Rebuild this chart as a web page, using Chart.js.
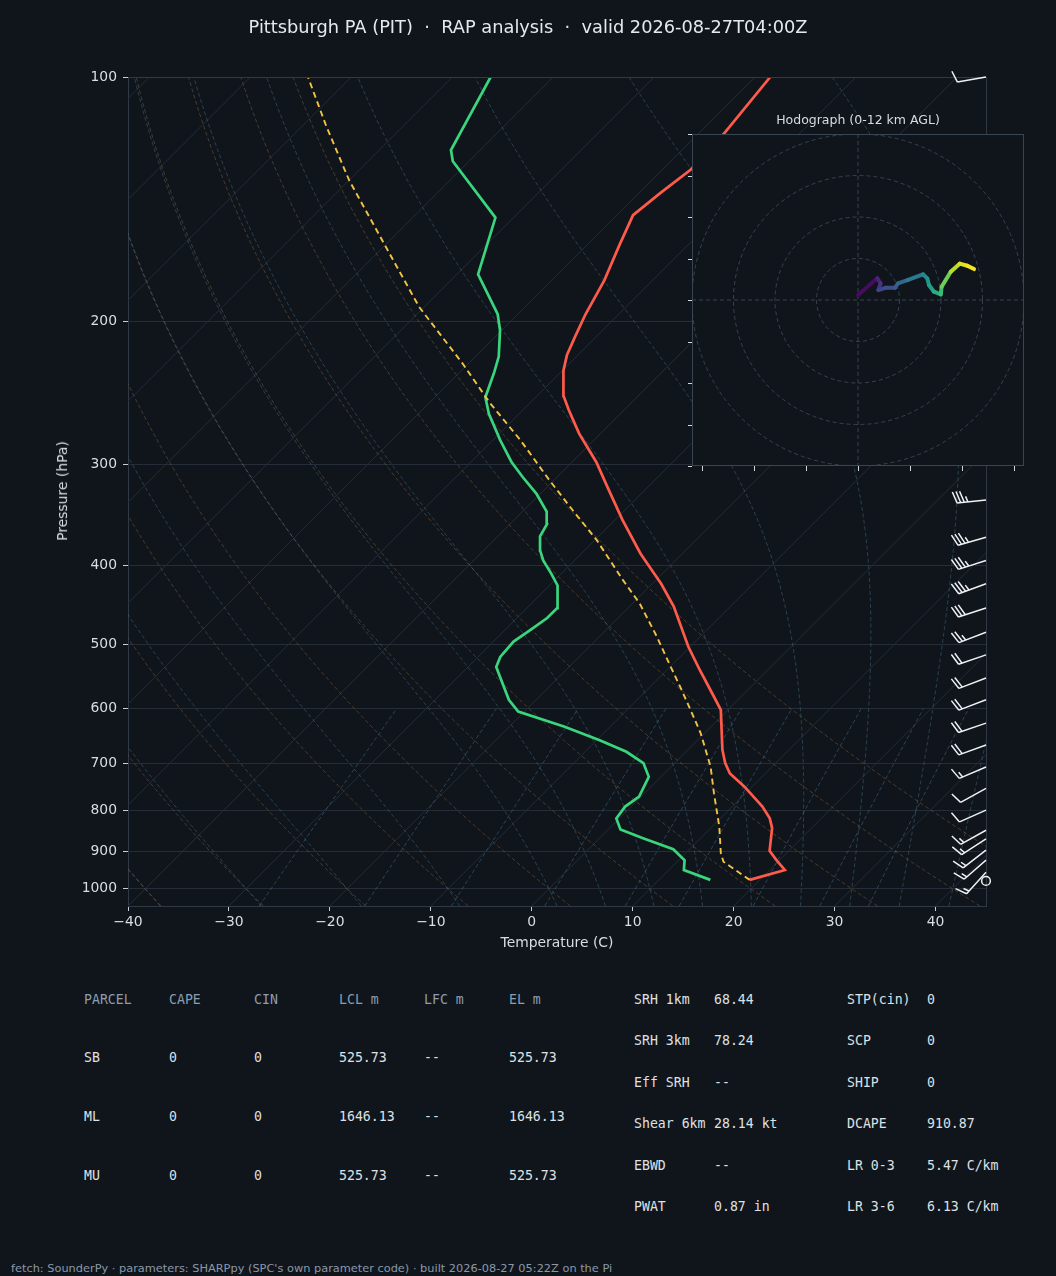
<!DOCTYPE html>
<html><head><meta charset="utf-8">
<script src="https://cdn.jsdelivr.net/npm/chart.js@4.4.1/dist/chart.umd.min.js"></script>
<style>
html,body{margin:0;padding:0;background:#10151c;}
#wrap{position:relative;width:1056px;height:1276px;overflow:hidden;background:#10151c;font-family:"DejaVu Sans",sans-serif;}
canvas{position:absolute;}
.t{position:absolute;white-space:pre;line-height:1;}
.mono{font-family:"DejaVu Sans Mono",monospace;font-size:13.2px;}
</style></head><body>
<div id="wrap">
<canvas id="skew" width="1056" height="960" style="left:0;top:0;width:1056px;height:960px"></canvas>
<canvas id="hodo" width="360" height="370" style="left:672px;top:110px;width:360px;height:370px"></canvas>
</div>
<script>
// ---------------- data ----------------
const tempPres = [975,948,922,898,842,819,792,748,721,700,674,602,569,538,503,449,421,394,386,351,320,298,275,257,247,230,220,209,196,178,161,148,139,130,117,100];
const tempC    = [19.0,21.5,19.7,18.1,16.1,14.9,13.0,9.2,6.5,5.0,3.4,-0.7,-3.7,-6.7,-10.2,-15.6,-19.1,-23.0,-24.2,-29.3,-34.0,-37.6,-42.1,-45.5,-47.4,-49.9,-51.1,-52.1,-53.3,-54.8,-56.8,-58.4,-57.9,-57.2,-57.5,-58.5];
const dwptPres = [975,948,922,894,867,845,819,792,770,728,700,678,656,631,605,585,533,518,496,480,464,451,423,409,394,383,368,356,343,326,311,298,280,260,248,231,221,205,196,175,149,127,123,100];
const dwptC    = [15.1,11.5,10.6,8.4,4.4,1.2,-0.3,-0.6,-0.2,-1.2,-3.1,-5.9,-9.7,-14.6,-20.6,-22.7,-27.2,-27.8,-28.0,-27.5,-27.0,-27.0,-29.2,-31.0,-33.1,-34.4,-35.8,-36.3,-37.6,-40.4,-43.4,-46.0,-49.3,-53.0,-55.0,-56.6,-57.7,-60.2,-62.0,-67.9,-71.8,-81.6,-82.9,-86.2];
const parcelPres = [975,926,904,838,763,707,643,602,564,530,489,445,417,372,342,314,280,252,225,192,160,134,115,100];
const parcelC    = [19.0,14.6,13.5,10.7,6.9,3.9,-0.4,-3.7,-7.0,-10.2,-14.3,-19.3,-23.2,-29.8,-35.1,-40.4,-47.3,-54.0,-60.7,-70.5,-80.4,-90.0,-97.6,-104.3];
const pressureTicks = [100,200,300,400,500,600,700,800,900,1000];
const tempTicks = [-40,-30,-20,-10,0,10,20,30,40];
const barbPres = [100,332,369,394,421,451,483,515,550,585,625,665,708,752,800,847,868,896,922,954,978];
const barbSpd  = [10,35,35,35,35,30,25,20,20,20,20,20,15,10,10,15,15,15,15,15,0];
const barbDir  = [260,264,254,252,250,252,249,251,249,249,251,250,247,241,246,241,237,232,229,222,0];
const hodoU = [0,9.3,10.9,9.8,13.3,17.8,19.3,23.8,31.3,33.4,34.2,36.6,39.9,40.3,44.7,49.0,52.7,55.9];
const hodoV = [2.4,10.5,8.0,4.8,5.9,5.9,8.0,9.6,12.4,10.4,7.2,4.0,2.7,6.4,13.6,17.5,16.5,14.9];
const hodoH = [0,0.8,1.6,2.2,2.6,3.2,3.6,4.4,5.3,5.8,6.3,7.2,7.8,8.4,10.2,11.2,11.7,12.0];
const hodoRings = [20,40,60,80];
const hodoXTicks = [-75,-50,-25,0,25,50,75];
const hodoYTicks = [-80,-60,-40,-20,0,20,40,60,80];
const parcelHeaders = ['PARCEL','CAPE','CIN','LCL m','LFC m','EL m'];
const parcelRows = [
  ['SB','0','0','525.73','--','525.73'],
  ['ML','0','0','1646.13','--','1646.13'],
  ['MU','0','0','525.73','--','525.73']
];
const paramLabelsA = ['SRH 1km','SRH 3km','Eff SRH','Shear 6km','EBWD','PWAT'];
const paramValuesA = ['68.44','78.24','--','28.14 kt','--','0.87 in'];
const paramLabelsB = ['STP(cin)','SCP','SHIP','DCAPE','LR 0-3','LR 3-6'];
const paramValuesB = ['0','0','0','910.87','5.47 C/km','6.13 C/km'];
const titleText = 'Pittsburgh PA (PIT)  \u00b7  RAP analysis  \u00b7  valid 2026-08-27T04:00Z';
const footerText = "fetch: SounderPy \u00b7 parameters: SHARPpy (SPC's own parameter code) \u00b7 built 2026-08-27 05:22Z on the Pi";

// ---------------- skew-T geometry ----------------
const X_MIN=-40, X_MAX=45, P_TOP=100, P_BOT=1050;
const AREA_W=858, AREA_H=829;
const SKEW = (AREA_H/Math.log10(P_BOT/P_TOP)) / (AREA_W/(X_MAX-X_MIN)); // 45 deg isotherms
const skewX = (T,p) => T + SKEW*Math.log10(P_BOT/p);
const BG='#10151c';
const FONT='DejaVu Sans';

// thermodynamic helpers for background lines
const RD=287.04749, CP=1004.66, LV=2.50084e6, EPS=0.62197;
const logPs = (p0,p1,n)=>{const a=[];for(let i=0;i<=n;i++)a.push(p0*Math.pow(p1/p0,i/n));return a;};
function moistProfile(t0C){
  const f=(p,T)=>{const es=6.112*Math.exp(17.67*(T-273.15)/(T-29.65));const rs=EPS*es/(p-es);return (RD*T+LV*rs)/(CP+LV*LV*rs*EPS/(RD*T*T))/p;};
  const step=(p,T,h)=>{const k1=f(p,T),k2=f(p+h/2,T+h*k1/2),k3=f(p+h/2,T+h*k2/2),k4=f(p+h,T+h*k3);return T+h*(k1+2*k2+2*k3+k4)/6;};
  let T=t0C+273.15,p=1000;const up=[[p,T-273.15]];
  const N=90;
  for(let i=1;i<=N;i++){const pn=1000*Math.pow(0.1,i/N);T=step(p,T,pn-p);p=pn;up.push([p,T-273.15]);}
  T=t0C+273.15;p=1000;const down=[];
  for(let i=1;i<=5;i++){const pn=1000+10*i;T=step(p,T,pn-p);p=pn;down.unshift([p,T-273.15]);}
  return down.concat(up);
}

const bgPlugin = {
  id:'skewBg',
  beforeDatasetsDraw(chart){
    const {ctx, chartArea:a, scales:{x:xs,y:ys}} = chart;
    const px=(T,p)=>xs.getPixelForValue(skewX(T,p));
    const py=p=>ys.getPixelForValue(p);
    const poly=(pts)=>{ctx.beginPath();pts.forEach(([p,T],i)=>{const X=px(T,p),Y=py(p);if(i)ctx.lineTo(X,Y);else ctx.moveTo(X,Y);});ctx.stroke();};
    ctx.save();
    ctx.beginPath();ctx.rect(a.left,a.top,a.right-a.left,a.bottom-a.top);ctx.clip();
    // isotherms
    ctx.lineWidth=1;ctx.setLineDash([]);ctx.strokeStyle='#242c37';
    for(let T=-130;T<=45;T+=10){poly([[P_BOT,T],[P_TOP,T]]);}
    // dry adiabats
    ctx.setLineDash([4,2.5]);ctx.strokeStyle='rgba(150,112,66,0.42)';
    const ps=logPs(P_BOT,P_TOP,70);
    for(let t0=-40;t0<=50;t0+=10){poly(ps.map(p=>[p,(t0+273.15)*Math.pow(p/1000,RD/CP)-273.15]));}
    // moist adiabats
    ctx.strokeStyle='rgba(70,120,140,0.45)';
    const mt=[-40,-30,-20,-10,0,5,10,15,20,25,30,35,40,45,50];
    mt.forEach(t0=>poly(moistProfile(t0)));
    // mixing ratio lines
    ctx.strokeStyle='rgba(70,115,150,0.5)';
    const ws=[0.4,1,2,4,7,10,16,24,32];
    const pm=logPs(P_BOT,600,30);
    ws.forEach(w=>{poly(pm.map(p=>{const e=p*(w/1000)/(EPS+w/1000);const l=Math.log(e/6.112);return [p,243.5*l/(17.67-l)];}));});
    ctx.restore();
  },
  afterDraw(chart){
    const {ctx, chartArea:a}=chart;
    ctx.save();ctx.strokeStyle='#2f3a46';ctx.lineWidth=1;ctx.setLineDash([]);
    ctx.beginPath();ctx.moveTo(a.left,a.top+0.5);ctx.lineTo(a.right+0.5,a.top+0.5);ctx.lineTo(a.right+0.5,a.bottom);ctx.stroke();
    ctx.restore();
    drawBarbs(chart);
  }
};

function drawBarbs(chart){
  const {ctx, chartArea:a, scales:{y:ys}}=chart;
  const L=29, h=0.4*L, w=0.25*L, sp=0.125*L;
  ctx.save();ctx.strokeStyle='#eef0f2';ctx.lineWidth=1.5;ctx.lineJoin='miter';ctx.setLineDash([]);
  barbPres.forEach((p,i)=>{
    const x0=a.right, y0=ys.getPixelForValue(p);
    let spd=Math.round(barbSpd[i]/5)*5;
    if(spd<5){ctx.beginPath();ctx.arc(x0,y0,0.15*L,0,Math.PI*2);ctx.stroke();return;}
    const r=barbDir[i]*Math.PI/180;
    const dx=Math.sin(r), dy=-Math.cos(r);
    const nx=-dy, ny=dx;
    ctx.beginPath();ctx.moveTo(x0,y0);ctx.lineTo(x0+dx*L,y0+dy*L);
    let pos=L;
    const nFull=Math.floor(spd/10); const half=(spd%10)>=5;
    for(let k=0;k<nFull;k++){
      const bx=x0+dx*pos, by=y0+dy*pos;
      ctx.moveTo(bx,by);ctx.lineTo(bx+dx*w/2+nx*h, by+dy*w/2+ny*h);
      pos-=sp;
    }
    if(half){
      if(nFull===0)pos-=1.5*sp;
      const bx=x0+dx*pos, by=y0+dy*pos;
      ctx.moveTo(bx,by);ctx.lineTo(bx+dx*w/4+nx*h/2, by+dy*w/4+ny*h/2);
    }
    ctx.stroke();
  });
  ctx.restore();
}

const fmtT = v => v<0 ? '\u2212'+Math.abs(v) : String(v);
const tickFont = {family:FONT,size:13.9};

new Chart(document.getElementById('skew'),{
  type:'scatter',
  data:{datasets:[
    {label:'Temperature',data:tempPres.map((p,i)=>({x:skewX(tempC[i],p),y:p})),showLine:true,borderColor:'#ff5b4b',borderWidth:2.7,pointRadius:0,fill:false,order:2},
    {label:'Dewpoint',data:dwptPres.map((p,i)=>({x:skewX(dwptC[i],p),y:p})),showLine:true,borderColor:'#3ad67d',borderWidth:2.7,pointRadius:0,fill:false,order:3},
    {label:'Parcel',data:parcelPres.map((p,i)=>({x:skewX(parcelC[i],p),y:p})),showLine:true,borderColor:'#f2c343',borderWidth:1.9,borderDash:[6,4],pointRadius:0,fill:false,order:1}
  ]},
  options:{
    responsive:false,animation:false,
    layout:{padding:{left:0,top:77,right:70,bottom:0}},
    plugins:{legend:{display:false},tooltip:{enabled:false},title:{display:false}},
    scales:{
      x:{type:'linear',min:X_MIN,max:X_MAX,
        afterBuildTicks:s=>{s.ticks=tempTicks.map(v=>({value:v}));},
        afterFit:s=>{s.height=54;},
        grid:{drawOnChartArea:false,drawTicks:true,tickLength:5,tickColor:'#c9ced4',tickWidth:1},
        border:{color:'#2f3a46',width:1},
        ticks:{color:'#dadde1',font:tickFont,padding:3,maxRotation:0,autoSkip:false,callback:v=>fmtT(v)}},
      y:{type:'logarithmic',reverse:true,min:P_TOP,max:P_BOT,
        afterBuildTicks:s=>{s.ticks=pressureTicks.map(v=>({value:v}));},
        afterFit:s=>{s.width=128;},
        grid:{color:'#252d38',lineWidth:1,drawTicks:true,tickLength:5,tickColor:'#c9ced4'},
        border:{color:'#2f3a46',width:1},
        ticks:{color:'#dadde1',font:tickFont,padding:6,autoSkip:false,callback:v=>String(v)}}
    }
  },
  plugins:[bgPlugin]
});

// ---------------- hodograph ----------------
const VIR=['#440154','#482475','#414487','#355f8d','#2a788e','#21918c','#22a884','#44bf70','#7ad151','#bddf26','#fde725'];
function viridis(t){
  t=Math.max(0,Math.min(1,t));const f=t*10,i=Math.min(9,Math.floor(f)),u=f-i;
  const a=VIR[i],b=VIR[i+1];const c=k=>parseInt(a.substr(k,2),16)*(1-u)+parseInt(b.substr(k,2),16)*u;
  return `rgb(${Math.round(c(1))},${Math.round(c(3))},${Math.round(c(5))})`;
}
const hMax=Math.max(...hodoH);
const hodoPlugin={
  id:'hodoBg',
  beforeDatasetsDraw(chart){
    const {ctx,chartArea:a,scales:{x:xs,y:ys}}=chart;
    ctx.save();
    ctx.fillStyle=BG;ctx.fillRect(a.left,a.top,a.right-a.left,a.bottom-a.top);
    ctx.beginPath();ctx.rect(a.left,a.top,a.right-a.left,a.bottom-a.top);ctx.clip();
    const cx=xs.getPixelForValue(0),cy=ys.getPixelForValue(0);
    ctx.strokeStyle='#384250';ctx.lineWidth=1;ctx.setLineDash([4,3]);
    hodoRings.forEach(r=>{const R=xs.getPixelForValue(r)-cx;ctx.beginPath();ctx.arc(cx,cy,R,0,Math.PI*2);ctx.stroke();});
    ctx.beginPath();ctx.moveTo(cx,a.top);ctx.lineTo(cx,a.bottom);ctx.moveTo(a.left,cy);ctx.lineTo(a.right,cy);ctx.stroke();
    ctx.restore();
  },
  afterDraw(chart){
    const {ctx,chartArea:a,scales:{x:xs,y:ys}}=chart;
    ctx.save();ctx.setLineDash([]);
    ctx.strokeStyle='#3a4554';ctx.lineWidth=1;
    ctx.strokeRect(a.left+0.5,a.top+0.5,a.right-a.left-1,a.bottom-a.top-1);
    ctx.strokeStyle='#d4d8dc';ctx.beginPath();
    hodoYTicks.forEach(v=>{const y=Math.round(ys.getPixelForValue(v))+0.5;ctx.moveTo(a.left-4,y);ctx.lineTo(a.left,y);});
    hodoXTicks.forEach(u=>{const x=Math.round(xs.getPixelForValue(u))+0.5;ctx.moveTo(x,a.bottom);ctx.lineTo(x,a.bottom+5);});
    ctx.stroke();ctx.restore();
  }
};
new Chart(document.getElementById('hodo'),{
  type:'scatter',
  data:{datasets:[{data:hodoU.map((u,i)=>({x:u,y:hodoV[i]})),showLine:true,pointRadius:0,borderWidth:4,
    borderColor:viridis(0.5),borderCapStyle:'round',borderJoinStyle:'round',
    segment:{borderColor:c=>viridis((hodoH[c.p0DataIndex]+hodoH[c.p1DataIndex])/2/hMax)}}]},
  options:{responsive:false,animation:false,
    layout:{padding:{left:20,top:24,right:8,bottom:14}},
    plugins:{legend:{display:false},tooltip:{enabled:false}},
    scales:{x:{type:'linear',min:-80,max:80,display:false},y:{type:'linear',min:-80,max:80,display:false}}},
  plugins:[hodoPlugin]
});

// ---------------- text ----------------
const wrap=document.getElementById('wrap');
function txt(s,x,cy,opt){
  const d=document.createElement('div');d.className='t'+(opt.mono?' mono':'');d.textContent=s;
  const size=opt.size||13.2;d.style.fontSize=size+'px';d.style.color=opt.color||'#dfe1e4';
  d.style.top=(cy-size/2)+'px';
  if(opt.center){d.style.left=x+'px';d.style.transform='translateX(-50%)';}else d.style.left=x+'px';
  if(opt.rot){d.style.left=x+'px';d.style.top=cy+'px';d.style.transform='translate(-50%,-50%) rotate(-90deg)';}
  wrap.appendChild(d);return d;
}
txt(titleText,528,27,{size:17.8,center:true,color:'#e6e9ec'});
txt('Pressure (hPa)',63,491,{size:13.9,rot:true,color:'#dadde1'});
txt('Temperature (C)',557,943,{size:13.9,center:true,color:'#dadde1'});
txt('Hodograph (0-12 km AGL)',858,120,{size:12.5,center:true,color:'#d8dce0'});
const colX=[84,169,254,339,424,509];
parcelHeaders.forEach((h,i)=>txt(h,colX[i],1000,{mono:true,color:'#8c9db0'}));
const rowY=[1058,1117,1176];
parcelRows.forEach((r,j)=>r.forEach((s,i)=>txt(s,colX[i],rowY[j],{mono:true})));
const pY=[1000,1041,1083,1124,1166,1207];
paramLabelsA.forEach((s,i)=>{txt(s,634,pY[i],{mono:true});txt(paramValuesA[i],714,pY[i],{mono:true});});
paramLabelsB.forEach((s,i)=>{txt(s,847,pY[i],{mono:true});txt(paramValuesB[i],927,pY[i],{mono:true});});
txt(footerText,11,1269,{size:11.35,color:'#8a98a8'});
</script>
</body></html>
